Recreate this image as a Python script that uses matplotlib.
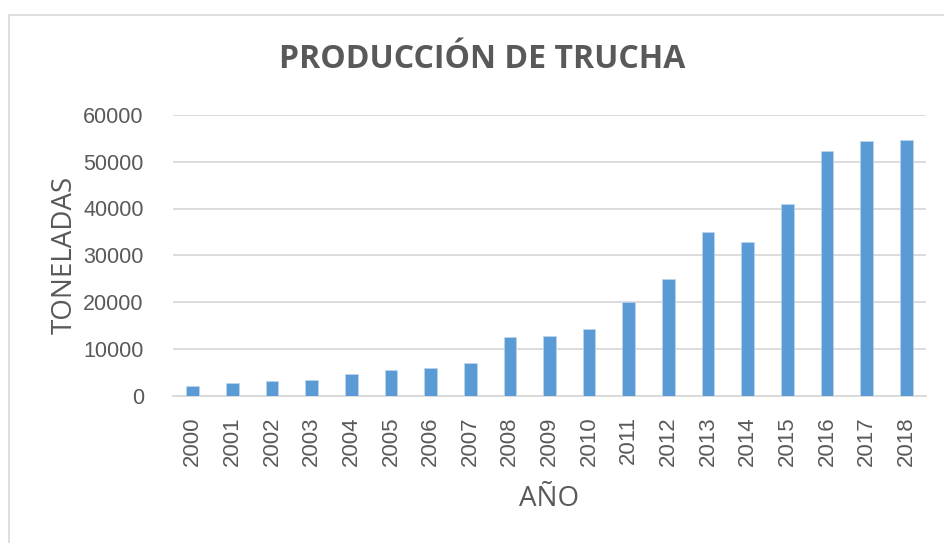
import matplotlib
matplotlib.use("Agg")
import matplotlib.pyplot as plt
from matplotlib.patches import Rectangle

# ---------------------------------------------------------------------------
# Data
# ---------------------------------------------------------------------------
years = [str(y) for y in range(2000, 2019)]
toneladas = [2000, 2640, 3070, 3210, 4640, 5500, 5780, 7000, 12490, 12780,
             14280, 20060, 24840, 34980, 32910, 40970, 52250, 54460, 54600]
y_ticks = [0, 10000, 20000, 30000, 40000, 50000, 60000]

BAR = "#5B9BD5"
GRID = "#D9D9D9"
TEXT = "#595959"

W, H = 944, 543
fig = plt.figure(figsize=(W / 100, H / 100), dpi=100)

# chart-area border (Excel style)
fig.patches.append(Rectangle((9 / W, -0.05), 1.0, 1 - 15 / H + 0.05,
                             transform=fig.transFigure, fill=False,
                             edgecolor=GRID, linewidth=1.2))

ax = fig.add_axes([173 / W, 1 - 395.5 / H, (926 - 173) / W, (395.5 - 115) / H])
x = range(len(years))
ax.bar(x, toneladas, width=0.32, color=BAR, edgecolor="#BDD7EE", linewidth=0.5,
       zorder=3)

ax.set_xlim(-0.5, len(years) - 0.5)
ax.set_ylim(0, 60000)
ax.set_yticks(y_ticks)
ax.set_yticklabels([str(v) for v in y_ticks], fontsize=15.5, color=TEXT,
                   family="Liberation Sans")
ax.set_xticks(list(x))
ax.set_xticklabels(years, rotation=90, fontsize=16, color=TEXT,
                   family="Liberation Sans")
ax.tick_params(axis="both", length=0)
ax.tick_params(axis="y", pad=21)
ax.tick_params(axis="x", pad=15)

ax.grid(axis="y", color=GRID, linewidth=1.3, zorder=0)
for side in ["top", "right", "left"]:
    ax.spines[side].set_visible(False)
ax.spines["bottom"].set_color(GRID)
ax.spines["bottom"].set_linewidth(1.3)

ax.set_ylabel("TONELADAS", fontsize=20, color=TEXT, family="Open Sans",
              labelpad=3)
ax.set_xlabel("AÑO", fontsize=20, color=TEXT, family="Open Sans", labelpad=14)

fig.text(482 / W, 1 - 60 / H, "PRODUCCIÓN DE TRUCHA", ha="center",
         va="center", fontsize=23, fontweight="bold", color=TEXT,
         family="Open Sans")

fig.savefig("out.png", dpi=100)
